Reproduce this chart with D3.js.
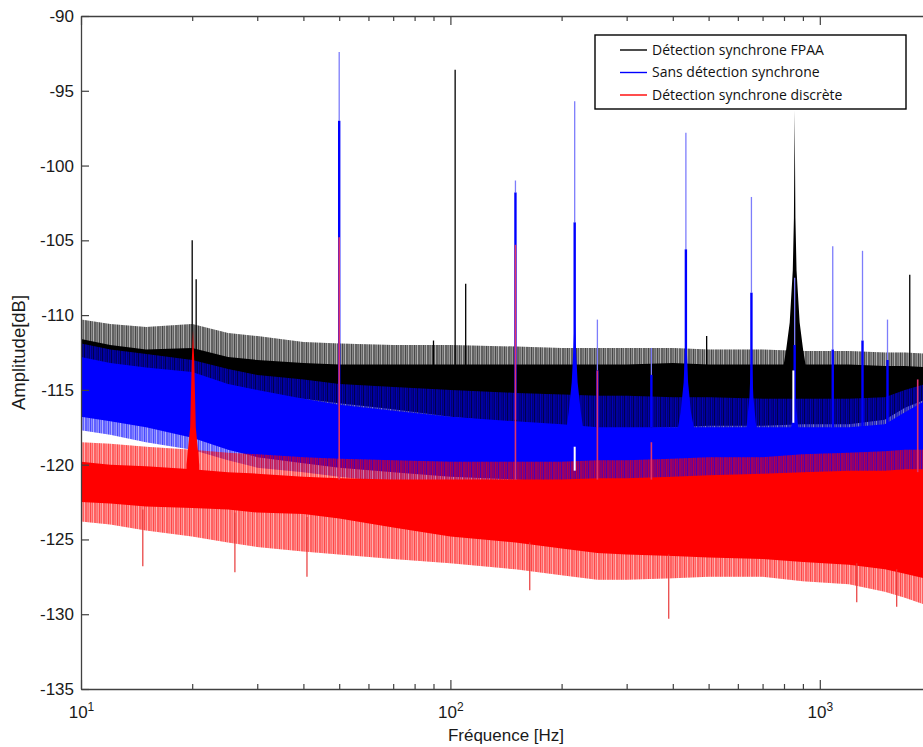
<!DOCTYPE html>
<html><head><meta charset="utf-8">
<script src="https://cdn.jsdelivr.net/npm/d3@7"></script>
<style>body{margin:0;background:#fff;} svg{display:block;}</style>
</head><body>
<svg id="c" width="923" height="747"></svg>
<script>
// ---------------- DATA ----------------
const seriesNames = ["Détection synchrone FPAA", "Sans détection synchrone", "Détection synchrone discrète"];
const knotF = [10, 12, 15, 20, 25, 30, 40, 50, 70, 100, 150, 200, 250, 300, 400, 500, 700, 900, 1200, 1500, 1700, 2000];

// FPAA (black) noise envelope
const blackTipHi  = [-110.3,-110.6,-110.8,-110.6,-111.2,-111.4,-111.8,-111.9,-112.0,-112.0,-112.1,-112.2,-112.2,-112.2,-112.2,-112.3,-112.3,-112.4,-112.4,-112.5,-112.5,-112.6];
const blackCoreHi = [-111.6,-112.0,-112.3,-112.2,-112.8,-113.0,-113.2,-113.3,-113.3,-113.3,-113.3,-113.3,-113.3,-113.3,-113.2,-113.3,-113.3,-113.3,-113.3,-113.4,-113.4,-113.5];
const blackCoreLo = [-114.5,-114.8,-115.0,-115.2,-115.3,-115.5,-115.6,-115.9,-116.3,-116.8,-117.2,-117.5,-117.7,-117.6,-117.5,-117.4,-117.4,-117.3,-117.3,-117.0,-116.2,-115.5];
const blackTipLo  = [-115.0,-115.3,-115.5,-115.7,-115.8,-116.0,-116.1,-116.4,-116.8,-117.3,-117.7,-118.0,-118.2,-118.1,-118.0,-117.9,-117.9,-117.8,-117.8,-117.5,-116.7,-116.0];

// Sans détection (blue) noise envelope
const blueTipHi  = [-111.9,-112.3,-112.6,-113.0,-113.6,-114.0,-114.3,-114.6,-114.8,-115.0,-115.2,-115.3,-115.4,-115.4,-115.5,-115.5,-115.6,-115.6,-115.6,-115.5,-115.0,-114.5];
const blueCoreHi = [-112.8,-113.2,-113.5,-113.8,-114.6,-115.0,-115.6,-116.0,-116.4,-116.8,-117.1,-117.3,-117.5,-117.5,-117.5,-117.5,-117.5,-117.5,-117.5,-117.3,-116.5,-115.5];
const blueCoreLo = [-116.8,-117.1,-117.5,-118.2,-119.0,-119.5,-119.9,-120.2,-120.5,-120.8,-121.0,-121.2,-121.3,-121.3,-121.3,-121.2,-121.0,-120.8,-120.7,-120.6,-120.5,-120.4];
const blueTipLo  = [-117.7,-118.0,-118.5,-119.0,-119.7,-120.2,-120.5,-120.8,-121.2,-121.5,-121.8,-122.0,-122.0,-122.0,-122.0,-122.0,-121.8,-121.6,-121.5,-121.4,-121.3,-121.2];

// Discrète (red) noise envelope
const redTipHi  = [-118.5,-118.6,-118.8,-119.0,-119.2,-119.3,-119.5,-119.6,-119.7,-119.8,-119.8,-119.8,-119.7,-119.7,-119.6,-119.5,-119.5,-119.3,-119.2,-119.1,-119.0,-119.0];
const redCoreHi = [-119.8,-120.0,-120.1,-120.3,-120.5,-120.6,-120.8,-120.9,-121.0,-121.0,-121.0,-121.0,-120.9,-120.9,-120.8,-120.7,-120.6,-120.5,-120.4,-120.4,-120.3,-120.3];
const redCoreLo = [-122.5,-122.6,-122.8,-122.9,-123.0,-123.2,-123.3,-123.6,-124.2,-124.8,-125.2,-125.6,-125.9,-126.0,-126.1,-126.2,-126.3,-126.5,-126.7,-127.0,-127.3,-127.7];
const redTipLo  = [-123.8,-124.0,-124.4,-124.8,-125.2,-125.5,-125.8,-126.0,-126.3,-126.6,-127.0,-127.4,-127.7,-127.7,-127.6,-127.5,-127.5,-127.8,-128.0,-128.5,-128.9,-129.5];

// Black broad peak near 855 Hz
const blackPeakF  = [790, 811, 829, 845, 851, 855, 859, 865, 882, 901, 925];
const blackPeakDb = [-114, -112.3, -110.5, -107, -103.5, -96.3, -103.5, -107, -110.5, -112.3, -114];
// Black narrow spikes
const blackSpikeF    = [20, 20.5, 90, 103, 110, 494, 1752];
const blackSpikePeak = [-105, -107.6, -111.7, -93.6, -107.9, -111.4, -107.3];
const blackSpikeBase = [-113, -113, -113.5, -113.5, -113.5, -113.5, -113.5];

// Blue spikes: peak (thin tip), body (thick part), base
const blueSpikeF    = [50, 150, 217, 250, 350, 434, 653, 855, 1084, 1305, 1525];
const blueSpikePeak = [-92.4, -101.0, -95.7, -110.3, -112.2, -97.8, -102.1, -107.5, -105.4, -105.7, -110.3];
const blueSpikeBody = [-97.0, -101.8, -103.8, -113.7, -114.0, -105.6, -108.5, -112.0, -112.3, -111.7, -113.0];
const blueSpikeBase = [-116, -117, -117.5, -117.5, -117.5, -117.5, -117.5, -117.5, -117.5, -117.5, -117.3];
// Blue humps at the base of harmonics
const blueHumpF  = [[205, 209, 213, 215.5, 217, 218.5, 221, 225.5, 230],
                    [410, 420, 428, 432, 434, 436, 440, 448, 460],
                    [625, 635, 645, 651, 653, 655, 661, 671, 683],
                    [825, 838, 849, 855, 861, 872, 886]];
const blueHumpDb = [[-118, -116.5, -114.5, -112, -110, -112, -114.5, -116.5, -118],
                    [-118, -116.5, -114.5, -112, -110.5, -112, -114.5, -116.5, -118],
                    [-118.5, -117.2, -115.5, -113, -111.5, -113, -115.5, -117.2, -118.5],
                    [-118.5, -117.3, -116, -114.5, -116, -117.3, -118.5]];

// Red hump at 20 Hz, spikes and downward dips
const redHumpF  = [19.3, 19.75, 19.95, 20.1, 20.25, 20.45, 20.9];
const redHumpDb = [-120, -117.5, -113, -111, -113, -117.5, -120];
const redSpikeF    = [50, 150, 250, 350, 1841];
const redSpikePeak = [-104.8, -105.3, -113.7, -118.5, -114.3];
const redSpikeBase = [-121, -121, -121, -121, -120.5];
const redDipF   = [14.7, 26.1, 40.9, 164, 390, 1259, 1615];
const redDipTop = [-123, -123.2, -123.5, -125.2, -126, -126.6, -127];
const redDipLow = [-126.8, -127.2, -127.5, -128.4, -130.3, -129.2, -129.5];

// White notches in the spectrum
const gapF   = [217, 848];
const gapTop = [-118.8, -113.7];
const gapLow = [-120.4, -117.2];

// Axis ticks
const yTicks = [-135, -130, -125, -120, -115, -110, -105, -100, -95, -90];
const xMajor = [10, 100, 1000];
const xMinor = [20, 30, 40, 50, 60, 70, 80, 90, 200, 300, 400, 500, 600, 700, 800, 900, 2000];
const xTickExp = ["1", "2", "3"];

// ---------------- STYLE ----------------
const colors = ["#000000", "#0000ff", "#ff0000"];
const M = {left: 81, top: 16, bottom: 689, right: 931};
const font = "'Liberation Sans', Arial, sans-serif";

const svg = d3.select("#c");
const x = d3.scaleLog().domain([10, 2000]).range([M.left, M.right]);
const y = d3.scaleLinear().domain([-135, -90]).range([M.bottom, M.top]);

const defs = svg.append("defs");
defs.append("clipPath").attr("id", "clip").append("rect")
  .attr("x", M.left).attr("y", M.top).attr("width", M.right - M.left).attr("height", M.bottom - M.top);
const stripeX = [0, 1.6, 3.9, 5.3, 7.4];
const stripeW = [0.9, 1.1, 0.8, 1.2, 0.9];
colors.forEach((c, i) => {
  const p = defs.append("pattern").attr("id", "pat" + i).attr("patternUnits", "userSpaceOnUse")
    .attr("width", 9).attr("height", 4);
  stripeX.forEach((sx, k) => p.append("rect").attr("x", sx).attr("y", 0)
    .attr("width", stripeW[k]).attr("height", 4).attr("fill", c));
});

const plot = svg.append("g").attr("clip-path", "url(#clip)");

function band(lo, hi) {
  return d3.area().x((d, i) => x(knotF[i])).y0((d, i) => y(lo[i])).y1((d, i) => y(hi[i]))(knotF);
}
function profile(F, D, base) {
  return d3.area().x((d, i) => x(F[i])).y0(() => y(base)).y1((d, i) => y(D[i]))(F);
}
const env = [
  [blackTipLo, blackTipHi, blackCoreLo, blackCoreHi],
  [blueTipLo, blueTipHi, blueCoreLo, blueCoreHi],
  [redTipLo, redTipHi, redCoreLo, redCoreHi]
];

function drawSeries(i) {
  const [tl, th, cl, ch] = env[i];
  plot.append("path").attr("d", band(tl, th)).attr("fill", colors[i]).attr("opacity", 0.25);
  plot.append("path").attr("d", band(tl, th)).attr("fill", `url(#pat${i})`).attr("opacity", 0.7);
  plot.append("path").attr("d", band(cl, ch)).attr("fill", colors[i]);
}

// Black
drawSeries(0);
plot.append("path").attr("d", profile(blackPeakF, blackPeakDb, -115)).attr("fill", colors[0]);
plot.selectAll(".bs").data(blackSpikeF).join("line")
  .attr("x1", d => x(d)).attr("x2", d => x(d))
  .attr("y1", (d, i) => y(blackSpikePeak[i])).attr("y2", (d, i) => y(blackSpikeBase[i]))
  .attr("stroke", colors[0]).attr("stroke-width", 1.3);

// Blue
drawSeries(1);
blueHumpF.forEach((F, k) => {
  plot.append("path").attr("d", profile(F, blueHumpDb[k], -119)).attr("fill", colors[1]);
});
plot.selectAll(".bt").data(blueSpikeF).join("line")
  .attr("x1", d => x(d)).attr("x2", d => x(d))
  .attr("y1", (d, i) => y(blueSpikePeak[i])).attr("y2", (d, i) => y(blueSpikeBody[i]))
  .attr("stroke", "#7d7dfb").attr("stroke-width", 1.3);
plot.selectAll(".bb").data(blueSpikeF).join("line")
  .attr("x1", d => x(d)).attr("x2", d => x(d))
  .attr("y1", (d, i) => y(blueSpikeBody[i])).attr("y2", (d, i) => y(blueSpikeBase[i]))
  .attr("stroke", colors[1]).attr("stroke-width", 2.4);

// Red
drawSeries(2);
plot.append("path").attr("d", profile(redHumpF, redHumpDb, -120.5)).attr("fill", colors[2]);
plot.selectAll(".rs").data(redSpikeF).join("line")
  .attr("x1", d => x(d)).attr("x2", d => x(d))
  .attr("y1", (d, i) => y(redSpikePeak[i])).attr("y2", (d, i) => y(redSpikeBase[i]))
  .attr("stroke", "#e0356a").attr("stroke-width", 1.6);
plot.selectAll(".rd").data(redDipF).join("line")
  .attr("x1", d => x(d)).attr("x2", d => x(d))
  .attr("y1", (d, i) => y(redDipTop[i])).attr("y2", (d, i) => y(redDipLow[i]))
  .attr("stroke", "#e83838").attr("stroke-width", 1.2);

// white notches
plot.selectAll(".gp").data(gapF).join("line")
  .attr("x1", d => x(d)).attr("x2", d => x(d))
  .attr("y1", (d, i) => y(gapTop[i])).attr("y2", (d, i) => y(gapLow[i]))
  .attr("stroke", "#ffffff").attr("stroke-width", 2);

// ---------------- AXES ----------------
const axisColor = "#404040";
function styleAxis(g) {
  g.selectAll("path.domain").attr("stroke", axisColor).attr("stroke-width", 1.3);
  g.selectAll(".tick line").attr("stroke", axisColor).attr("stroke-width", 1.2);
  g.selectAll("text").attr("font-family", font).attr("font-size", 17).attr("fill", "#1a1a1a");
}
const gb = svg.append("g").attr("transform", `translate(0,${M.bottom})`)
  .call(d3.axisBottom(x).tickValues(xMajor).tickSizeInner(-9).tickSizeOuter(0).tickPadding(17).tickFormat(() => ""));
styleAxis(gb);
gb.selectAll(".tick text").each(function(d, i) {
  const t = d3.select(this);
  t.text("10");
  t.append("tspan").attr("dy", "-0.6em").attr("font-size", 12).text(xTickExp[i]);
});
const gbm = svg.append("g").attr("transform", `translate(0,${M.bottom})`)
  .call(d3.axisBottom(x).tickValues(xMinor).tickSizeInner(-5).tickSizeOuter(0).tickFormat(() => ""));
styleAxis(gbm); gbm.select("path.domain").remove();

const gt = svg.append("g").attr("transform", `translate(0,${M.top})`)
  .call(d3.axisTop(x).tickValues(xMajor).tickSizeInner(-9).tickSizeOuter(0).tickFormat(() => ""));
styleAxis(gt);
const gtm = svg.append("g").attr("transform", `translate(0,${M.top})`)
  .call(d3.axisTop(x).tickValues(xMinor).tickSizeInner(-5).tickSizeOuter(0).tickFormat(() => ""));
styleAxis(gtm); gtm.select("path.domain").remove();

const gl = svg.append("g").attr("transform", `translate(${M.left},0)`)
  .call(d3.axisLeft(y).tickValues(yTicks).tickSizeInner(-8).tickSizeOuter(0).tickPadding(7).tickFormat(d => String(d)));
styleAxis(gl);
const gr = svg.append("g").attr("transform", `translate(${M.right},0)`)
  .call(d3.axisRight(y).tickValues(yTicks).tickSizeInner(-8).tickSizeOuter(0).tickFormat(() => ""));
styleAxis(gr);

svg.append("text").attr("x", (M.left + M.right) / 2).attr("y", 741)
  .attr("text-anchor", "middle").attr("font-family", font).attr("font-size", 17).attr("fill", "#1a1a1a")
  .text("Fréquence [Hz]");
svg.append("text").attr("transform", `translate(25,${(M.top + M.bottom) / 2}) rotate(-90)`)
  .attr("text-anchor", "middle").attr("font-family", font).attr("font-size", 18.5).attr("fill", "#1a1a1a")
  .text("Amplitude[dB]");

// ---------------- LEGEND ----------------
const lg = svg.append("g");
lg.append("rect").attr("x", 595).attr("y", 35).attr("width", 311).attr("height", 74)
  .attr("fill", "#fff").attr("stroke", "#000").attr("stroke-width", 1.4);
seriesNames.forEach((n, i) => {
  const yy = 50 + i * 22.5;
  lg.append("line").attr("x1", 620).attr("x2", 647).attr("y1", yy).attr("y2", yy)
    .attr("stroke", colors[i]).attr("stroke-width", 1.4);
  lg.append("text").attr("x", 652).attr("y", yy + 4.8)
    .attr("font-family", "'Open Sans', 'Noto Sans', sans-serif").attr("font-size", 14).attr("fill", "#111")
    .text(n);
});
</script>
</body></html>
